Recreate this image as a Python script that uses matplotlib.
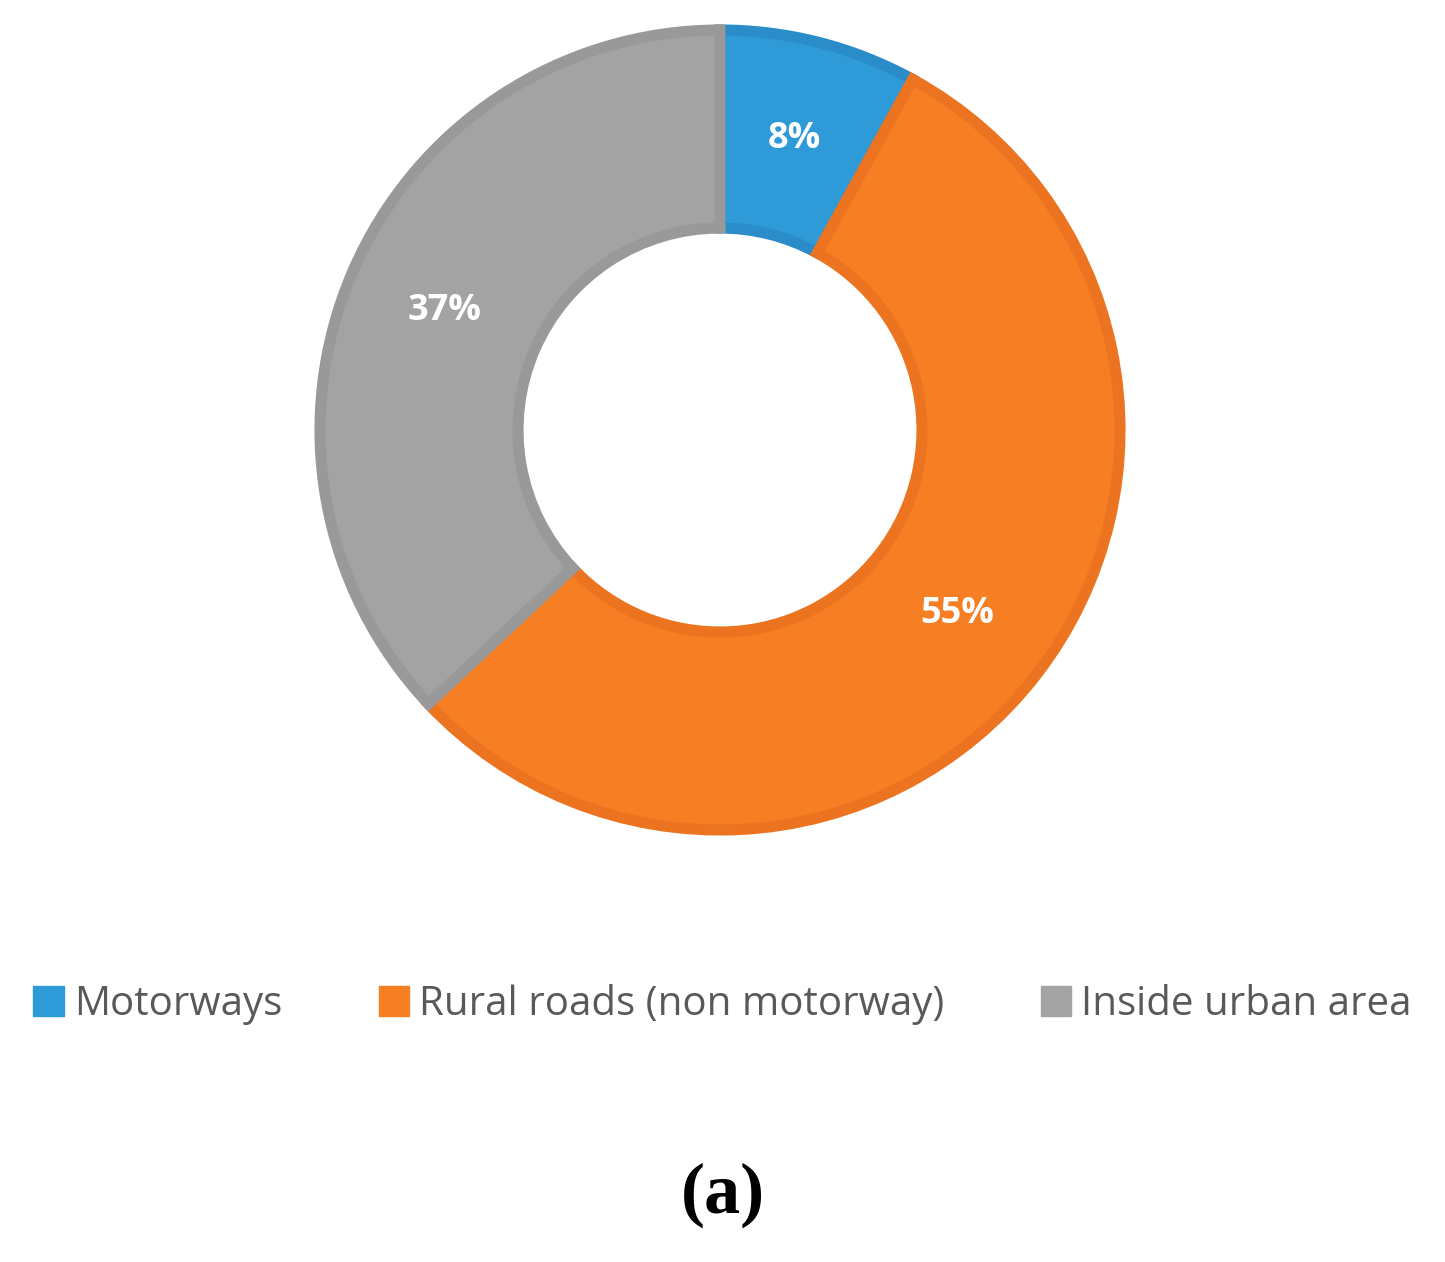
import matplotlib
matplotlib.use("Agg")
import matplotlib.pyplot as plt
from matplotlib.patches import Patch

categories = ["Motorways", "Rural roads (non motorway)", "Inside urban area"]
values = [8, 55, 37]
colors = ["#2E9AD8", "#F67F24", "#A3A3A3"]
edges = ["#2A8CC8", "#EC7420", "#999999"]

W, H = 1445, 1262
fig = plt.figure(figsize=(W/100, H/100), dpi=100)
ax = fig.add_axes([0, 0, 1, 1])
ax.set_xlim(0, W); ax.set_ylim(0, H); ax.set_aspect('equal'); ax.axis('off')

wedges, texts, autotexts = ax.pie(
    values, colors=colors, startangle=90, counterclock=False,
    center=(720, 832), radius=400, autopct='%d%%', pctdistance=0.75,
    wedgeprops=dict(width=198, linewidth=8),
    textprops=dict(color='white', fontsize=26, fontweight='bold', family='Open Sans'))
for w, e in zip(wedges, edges):
    w.set_edgecolor(e)
ax.set_xlim(0, W); ax.set_ylim(0, H)

handles = [Patch(facecolor=c, edgecolor=c) for c in colors]
leg = fig.legend(handles, categories, loc='center', bbox_to_anchor=(0.5, 0.204), ncol=3,
                 frameon=False, handlelength=0.75, handleheight=0.75,
                 handletextpad=0.25, columnspacing=2.4,
                 prop=dict(family='Open Sans', size=29))
for t in leg.get_texts():
    t.set_color('#595959')

fig.text(0.5, 1-1195/H, "(a)", ha='center', va='center', fontsize=52,
         fontweight='bold', family='Liberation Serif')
fig.savefig("out.png", dpi=100, facecolor='white')
